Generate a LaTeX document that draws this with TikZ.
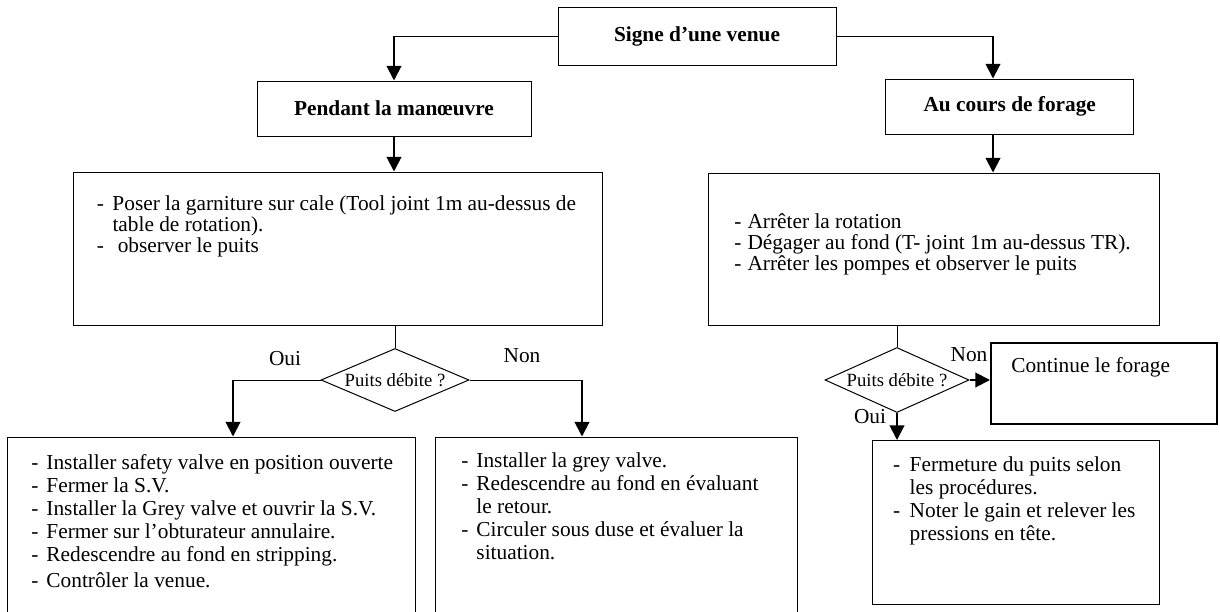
\documentclass[tikz,border=0pt]{standalone}
\usepackage{fontspec}
\setmainfont{Liberation Serif}
\usepackage{tikz}
\usetikzlibrary{shapes}
\usetikzlibrary{arrows.meta}
\usetikzlibrary{calc}
\usetikzlibrary{positioning}

\newcommand{\tiret}[1][11pt]{\makebox[#1][l]{-}}

\begin{document}
\begin{tikzpicture}[x=0.75pt,y=-0.75pt]
\tikzstyle{every node}=[font=\fontsize{16}{17.25}\selectfont]
\tikzstyle{boite}=[draw,line width=0.75pt,inner sep=0pt]
\tikzstyle{losange}=[draw,diamond,line width=0.75pt,inner sep=0pt,font=\fontsize{14}{15}\selectfont]
\tikzstyle{liste}=[anchor=base west,inner sep=0pt]
\tikzstyle{listehaut}=[liste,font=\fontsize{16}{15}\selectfont]
\tikzstyle{trait}=[line width=0.75pt]
\tikzstyle{fleche}=[line width=1.5pt,-{Triangle[length=11pt,width=11pt]}]
\def\px{0.75pt}

\useasboundingbox (0,0) rectangle (1220,611);
\clip (0,0) rectangle (1220,611);

%=== Titres
\node[boite,minimum width=278*\px,minimum height=58*\px] (signe) at (697,36) {\textbf{Signe d’une venue}};
\node[boite,minimum width=274*\px,minimum height=55*\px] (pendant) at (394,108.5) {\textbf{Pendant la manœuvre}};
\node[boite,minimum width=248*\px,minimum height=55*\px] (forage) at (1009.75,106.5) {\textbf{Au cours de forage}};

% Signe -> les deux cas
\coordinate (c1) at (pendant.north |- signe.west);
\draw[trait] (signe.west) -- (c1);
\draw[fleche] (c1) -- (pendant.north);
\coordinate (c2) at (993,36);
\draw[trait] (signe.east) -- (c2);
\draw[fleche] (c2) -- (c2 |- forage.north);

%=== Pendant la manoeuvre
\node[boite,minimum width=529*\px,minimum height=153*\px] (gauche) at (338,248.5) {};
\draw[fleche] (pendant.south) -- (pendant.south |- gauche.north);
\node[listehaut] (tgauche) at ($(gauche.north west)+(23.5,39)$) {\begin{tabular}[t]{@{}l@{}}
\tiret[11.8pt]Poser la garniture sur cale (Tool joint 1m au-dessus de\\
\hspace*{11.8pt}table de rotation).\\
\tiret[11.8pt]\ observer le puits
\end{tabular}};

% Test
\node[losange,aspect=2.35,minimum width=148*\px,minimum height=63*\px] (test1) at (395,380) {Puits débite ?};
\draw[trait] (test1.north |- gauche.south) -- (test1.north);
\node (oui1) at (285,359) {Oui};
\node (non1) at (522,356) {Non};

% Oui
\node[boite,minimum width=408*\px,minimum height=203*\px] (boui1) at (211,538.5) {};
\coordinate (c3) at (233,380);
\draw[trait] (test1.west) -- (c3);
\draw[fleche] (c3) -- (c3 |- boui1.north);
\node[liste] (toui1) at ($(boui1.north west)+(24.7,33)$) {\begin{tabular}[t]{@{}l@{}}
\tiret[11.25pt]Installer safety valve en position ouverte\\
\tiret[11.25pt]Fermer la S.V.\\
\tiret[11.25pt]Installer la Grey valve et ouvrir la S.V.\\
\tiret[11.25pt]Fermer sur l’obturateur annulaire.\\
\tiret[11.25pt]Redescendre au fond en stripping.\\[2.5pt]
\tiret[11.25pt]Contrôler la venue.
\end{tabular}};

% Non
\node[boite,minimum width=362*\px,minimum height=203*\px] (bnon1) at (616,538.5) {};
\coordinate (c4) at (582,380);
\draw[trait] (test1.east) -- (c4);
\draw[fleche] (c4) -- (c4 |- bnon1.north);
\node[liste] (tnon1) at ($(bnon1.north west)+(26.7,31)$) {\begin{tabular}[t]{@{}l@{}}
\tiret[11.25pt]Installer la grey valve.\\
\tiret[11.25pt]Redescendre au fond en évaluant\\
\hspace*{11.25pt}le retour.\\
\tiret[11.25pt]Circuler sous duse et évaluer la\\
\hspace*{11.25pt}situation.
\end{tabular}};

%=== Au cours de forage
\node[boite,minimum width=451*\px,minimum height=152*\px] (droite) at (934,249) {};
\draw[fleche] (c2 |- forage.south) -- (c2 |- droite.north);
\node[listehaut] (tdroite) at ($(droite.north west)+(26,56)$) {\begin{tabular}[t]{@{}l@{}}
\tiret[10pt]Arrêter la rotation\\
\tiret[10pt]Dégager au fond (T- joint 1m au-dessus TR).\\
\tiret[10pt]Arrêter les pompes et observer le puits
\end{tabular}};

% Test
\node[losange,aspect=2.2,minimum width=144*\px,minimum height=65*\px] (test2) at (897,380) {Puits débite ?};
\draw[trait] (test2.north |- droite.south) -- (test2.north);
\node (non2) at (969,355) {Non};
\node (oui2) at (870,417) {Oui};

% Non
\node[boite,line width=1.5pt,minimum width=226*\px,minimum height=81*\px] (suite) at (1104,383.5) {};
\node[liste] (tsuite) at ($(suite.north west)+(21,30)$) {Continue le forage};
\draw[fleche] (test2.east) -- (suite.west |- test2.east);

% Oui
\node[boite,minimum width=287*\px,minimum height=164*\px] (boui2) at (1016,522.5) {};
\draw[fleche] (test2.south) -- (test2.south |- boui2.north);
\node[liste] (toui2) at ($(boui2.north west)+(20.8,31.5)$) {\begin{tabular}[t]{@{}l@{}}
\tiret[12.5pt]Fermeture du puits selon\\
\hspace*{12.5pt}les procédures.\\
\tiret[12.5pt]Noter le gain et relever les\\
\hspace*{12.5pt}pressions en tête.
\end{tabular}};
\end{tikzpicture}
\end{document}
